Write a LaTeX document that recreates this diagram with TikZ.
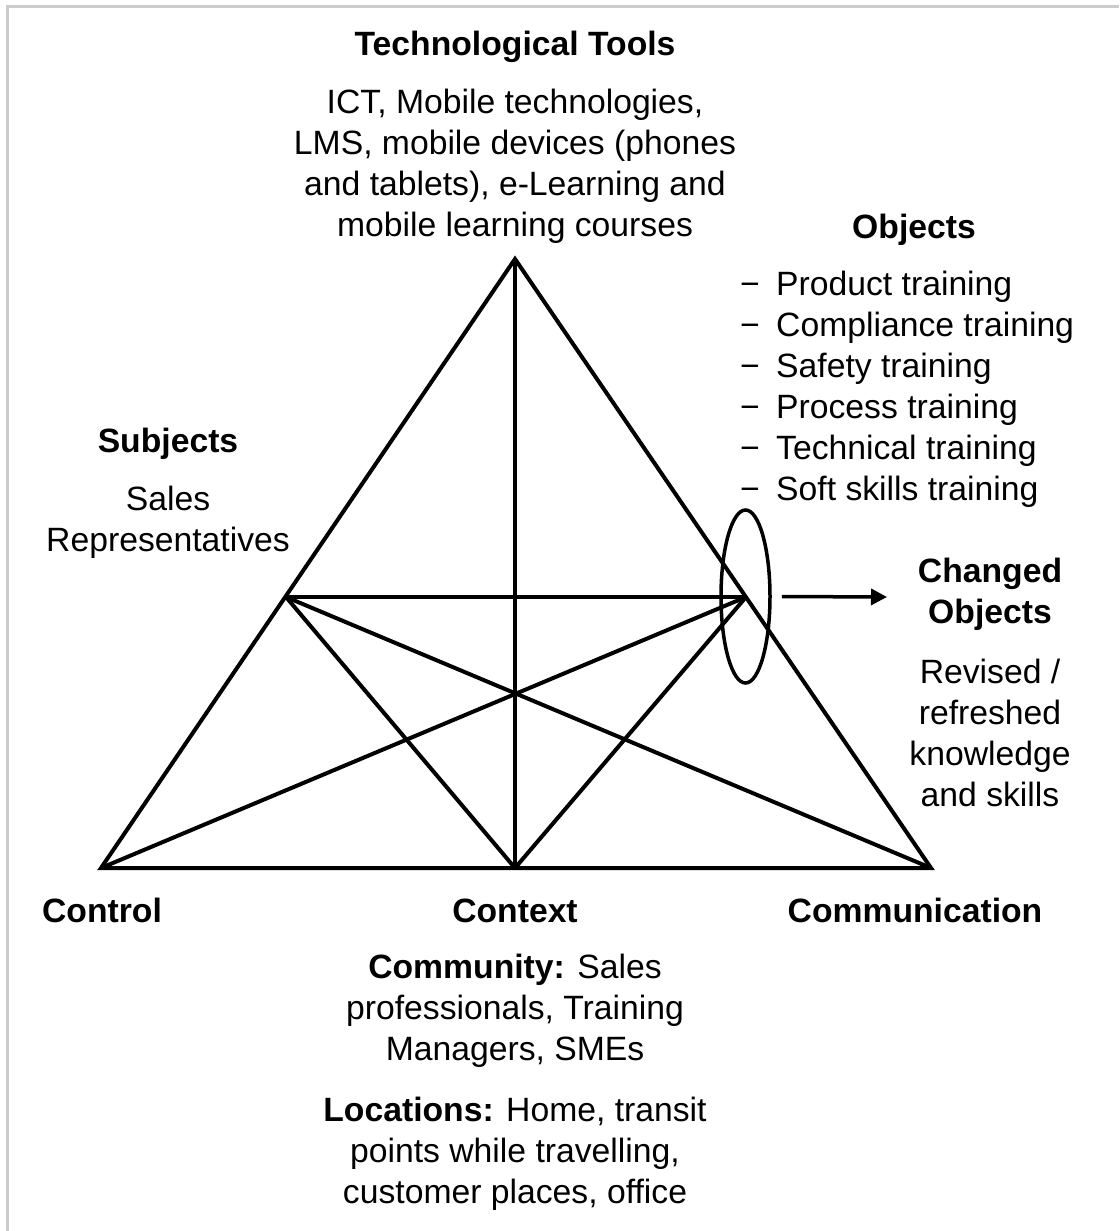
\documentclass[tikz,border=0pt]{standalone}
\usepackage{fontspec}
\setmainfont{Liberation Sans}
\usetikzlibrary{arrows.meta,shapes.geometric}
\begin{document}
\begin{tikzpicture}[x=1pt,y=-1pt,
  edge/.style={line width=4pt,line join=miter},
  txt/.style={inner sep=0pt,align=center,font=\fontsize{33.7}{41}\selectfont},
  hd/.style={inner sep=0pt,anchor=base,font=\fontsize{33.7}{41}\selectfont\bfseries},
  lst/.style={inner sep=0pt,anchor=west,align=left,font=\fontsize{33.7}{41}\selectfont}]
\useasboundingbox (0,0) rectangle (1119,1231);
\fill[white] (0,0) rectangle (1119,1231);
\draw[line width=3pt,draw=black!20] (7,1231) -- (7,6.5) -- (1119,6.5);
% vertices
\coordinate (T) at (515,259);
\coordinate (L) at (101,868);
\coordinate (R) at (931,868);
\coordinate (C) at (515,868);
\coordinate (ML) at (286,597);
\coordinate (MR) at (746,597);
\draw[edge] (T) -- (L) -- (R) -- cycle;
\draw[edge] (T) -- (C);
\draw[edge] (ML) -- (MR);
\draw[edge] (ML) -- (C);
\draw[edge] (ML) -- (R);
\draw[edge] (MR) -- (C);
\draw[edge] (MR) -- (L);
\node[draw,line width=3.5pt,ellipse,minimum width=49pt,minimum height=173pt,inner sep=0pt] (ell) at (745.5,596.5) {};
\coordinate (arrend) at (887,597);
\draw[line width=3.5pt,-{Triangle[length=16pt,width=16pt]}] (ell.east) ++(10,0) coordinate (arrstart) -- (arrend);
% texts
\node[hd] (tt) at (515,56) {Technological Tools};
\node[txt] (ttx) at (515,166) {ICT, Mobile technologies,\\LMS, mobile devices (phones\\and tablets), e-Learning and\\mobile learning courses};
\node[hd] (obj) at (914,238) {Objects};
\node[lst] (objl) at (740,389) {\makebox[36pt][l]{−}Product training\\\makebox[36pt][l]{−}Compliance training\\\makebox[36pt][l]{−}Safety training\\\makebox[36pt][l]{−}Process training\\\makebox[36pt][l]{−}Technical training\\\makebox[36pt][l]{−}Soft skills training};
\node[hd] (subj) at (168,452) {Subjects};
\node[txt] (subjx) at (168,522) {Sales\\Representatives};
\node[txt,font=\fontsize{33.7}{41}\selectfont\bfseries] (chg) at (990,594) {Changed\\Objects};
\node[txt] (chgx) at (990,733) {Revised /\\refreshed\\knowledge\\and skills};
\node[hd] (ctl) at (102,922) {Control};
\node[hd] (ctx) at (515,922) {Context};
\node[hd] (com) at (915,922) {Communication};
\node[txt] (comm) at (515,1011) {\textbf{Community:} Sales\\professionals, Training\\Managers, SMEs};
\node[txt] (loc) at (515,1154) {\textbf{Locations:} Home, transit\\points while travelling,\\customer places, office};
\end{tikzpicture}
\end{document}
